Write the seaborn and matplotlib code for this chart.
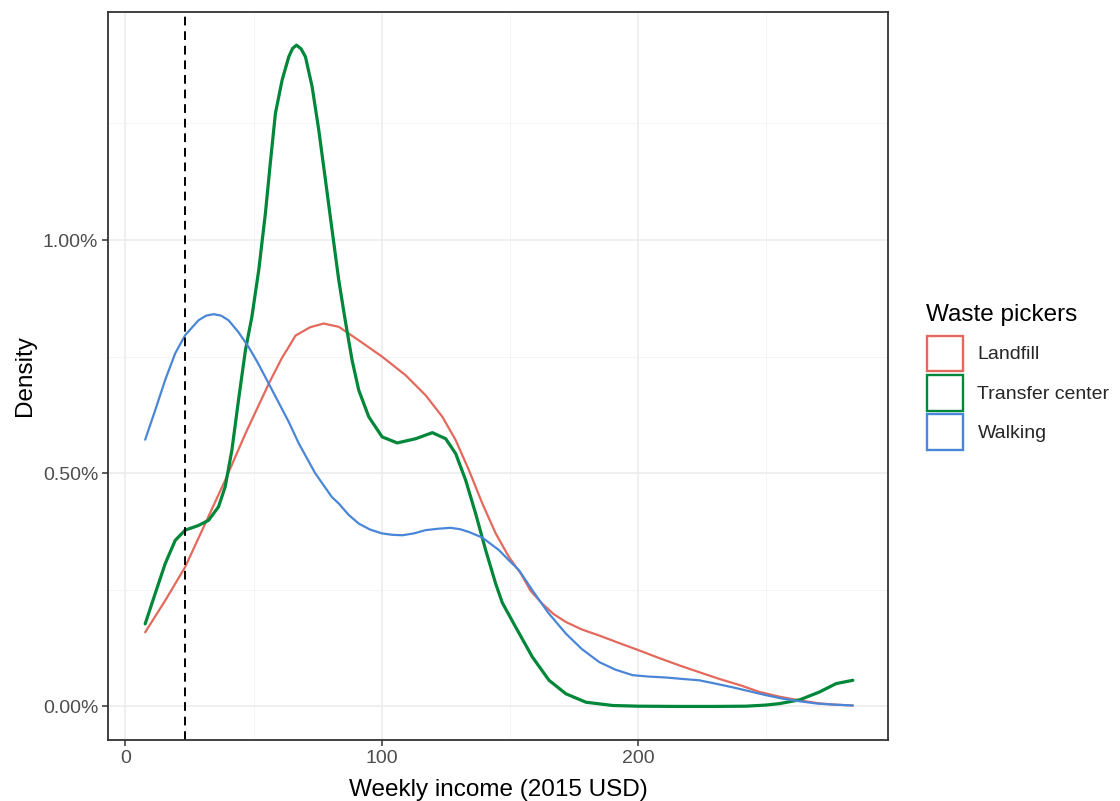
import matplotlib
matplotlib.use("Agg")
import matplotlib.pyplot as plt
import matplotlib.ticker as mticker
from matplotlib.patches import Patch
import seaborn as sns
import pandas as pd

# ---- data (density in percent per USD) ----
landfill_x = [7.7, 15.5, 23.3, 31.1, 38.9, 46.8, 55.9, 61, 63.7, 66.3, 72, 77.3, 83.2, 91, 100.1,
              109.3, 117.1, 123.6, 128.8, 134, 139.2, 144.4, 149.6, 154.2, 158, 162.6, 167, 171.8,
              178, 184.8, 192, 200.4, 208, 216, 224, 231.6, 240, 247.3, 255, 262.9, 270, 275.9, 283.7]
landfill_y = [0.159, 0.227, 0.299, 0.392, 0.485, 0.585, 0.692, 0.747, 0.771, 0.795, 0.813, 0.821,
              0.814, 0.785, 0.750, 0.710, 0.667, 0.621, 0.571, 0.506, 0.435, 0.371, 0.320, 0.285,
              0.248, 0.220, 0.198, 0.181, 0.165, 0.152, 0.137, 0.120, 0.104, 0.088, 0.073, 0.059,
              0.045, 0.031, 0.021, 0.013, 0.007, 0.004, 0.002]

transfer_x = [7.7, 11.6, 15.5, 19.4, 23.3, 28.5, 32.4, 36.3, 38.9, 41.5, 44.1, 46.8, 49.3, 52,
              54.6, 56.5, 58.5, 61.1, 63.7, 65.2, 66.7, 68.5, 70.2, 72.8, 75.4, 78, 80.6, 83.2,
              85.5, 88.4, 91, 94.9, 100.1, 106, 113.2, 119.7, 124.9, 128.8, 132.7, 136.6, 140.5,
              144.4, 147, 152.2, 158.7, 165.2, 171.8, 179.6, 190, 200, 215, 230, 242, 250, 255,
              262.9, 270.7, 277.2, 283.7]
transfer_y = [0.177, 0.242, 0.306, 0.356, 0.378, 0.388, 0.399, 0.428, 0.471, 0.549, 0.657, 0.764,
              0.835, 0.936, 1.058, 1.165, 1.272, 1.343, 1.393, 1.411, 1.418, 1.410, 1.393, 1.329,
              1.236, 1.129, 1.021, 0.914, 0.835, 0.742, 0.678, 0.621, 0.578, 0.565, 0.574, 0.587,
              0.574, 0.542, 0.485, 0.413, 0.335, 0.263, 0.222, 0.170, 0.106, 0.056, 0.027, 0.009,
              0.002, 0.0005, 0.0, 0.0, 0.0005, 0.003, 0.006, 0.014, 0.031, 0.049, 0.056]

walking_x = [7.7, 11.6, 15.5, 19.4, 23.3, 28.5, 31.5, 34.4, 37.3, 40.2, 44, 48, 51.5, 55.9, 59.8,
             63.7, 67.6, 74, 80.5, 83.2, 87, 91, 95.5, 100.1, 104, 108, 112.5, 117.1, 122, 126.8,
             130.5, 134, 139.2, 145.7, 149.6, 153.5, 158.7, 165, 171.8, 178, 184.8, 191, 197.8,
             204, 210.8, 217, 223.8, 230, 236.8, 243, 249.9, 256, 262.9, 270, 276, 283.7]
walking_y = [0.572, 0.635, 0.700, 0.757, 0.796, 0.828, 0.838, 0.841, 0.838, 0.828, 0.803, 0.771,
             0.738, 0.692, 0.651, 0.610, 0.564, 0.500, 0.449, 0.435, 0.411, 0.392, 0.379, 0.371,
             0.368, 0.367, 0.371, 0.378, 0.381, 0.383, 0.380, 0.374, 0.362, 0.335, 0.313, 0.292,
             0.249, 0.200, 0.156, 0.123, 0.095, 0.079, 0.067, 0.064, 0.062, 0.059, 0.056, 0.049,
             0.041, 0.033, 0.024, 0.017, 0.011, 0.006, 0.004, 0.002]

groups = ["Landfill", "Transfer center", "Walking"]
colors = ["#E4695D", "#00873A", "#4A86D8"]
poverty_line = 23.4
x_ticks = [0, 100, 200]
y_ticks = [0.0, 0.5, 1.0]

frames = []
for g, xs, ys in [("Landfill", landfill_x, landfill_y),
                  ("Transfer center", transfer_x, transfer_y),
                  ("Walking", walking_x, walking_y)]:
    frames.append(pd.DataFrame({"income": xs, "density": ys, "group": g}))
df = pd.concat(frames, ignore_index=True)

sns.set_theme(style="white")
plt.rcParams['font.family'] = ['Liberation Sans', 'DejaVu Sans']

fig = plt.figure(figsize=(11.2, 8.01), dpi=100)
ax = fig.add_axes([108/1120, 1 - 740/801, (888-108)/1120, (740-12)/801])

# grid (theme_bw-like)
ax.set_xticks(x_ticks)
ax.set_yticks(y_ticks)
ax.set_xticks([50, 150, 250], minor=True)
ax.set_yticks([0.25, 0.75, 1.25], minor=True)
ax.grid(which="major", color="#EBEBEB", linewidth=1.1)
ax.grid(which="minor", color="#F2F2F2", linewidth=0.6)
ax.set_axisbelow(True)

palette = dict(zip(groups, colors))
for g in groups:
    sub = df[df["group"] == g]
    sns.lineplot(data=sub, x="income", y="density", color=palette[g], ax=ax,
                 sort=False, estimator=None, linewidth=2.3 if g == "Transfer center" else 1.6,
                 legend=False)

ax.axvline(poverty_line, color="black", linestyle=(0, (4.5, 3)), linewidth=1.4)

ax.set_xlim(-6.8, 297.4)
ax.set_ylim(-0.072, 1.489)
ax.yaxis.set_major_formatter(mticker.FuncFormatter(lambda v, p: f"{v:.2f}%"))

for s in ax.spines.values():
    s.set_color("#333333")
    s.set_linewidth(1.3)
    s.set_visible(True)

ax.tick_params(axis="both", which="major", length=4, width=1.1, color="#333333",
               labelsize=14, labelcolor="#4D4D4D", pad=3, bottom=True, left=True)
ax.tick_params(axis="both", which="minor", length=0)

ax.set_xlabel("Weekly income (2015 USD)", fontsize=17.5, color="black", labelpad=9)
ax.set_ylabel("Density", fontsize=17.5, color="black", labelpad=5)

# legend (title as separate text, keys as outlined boxes)
fig.text(926.5/1120, 1 - 321/801, "Waste pickers", fontsize=17.5, color="black",
         ha="left", va="baseline")
handles = [Patch(facecolor="white", edgecolor=c, linewidth=1.7, label=g) for g, c in zip(groups, colors)]
leg = fig.legend(handles=handles, loc="upper left",
                 bbox_to_anchor=(926.5/1120, 1 - 335.5/801), frameon=False,
                 fontsize=14, handlelength=1.9, handleheight=2.47,
                 labelspacing=0.16, handletextpad=0.72, borderaxespad=0, borderpad=0)

fig.savefig("out.png", dpi=100)
